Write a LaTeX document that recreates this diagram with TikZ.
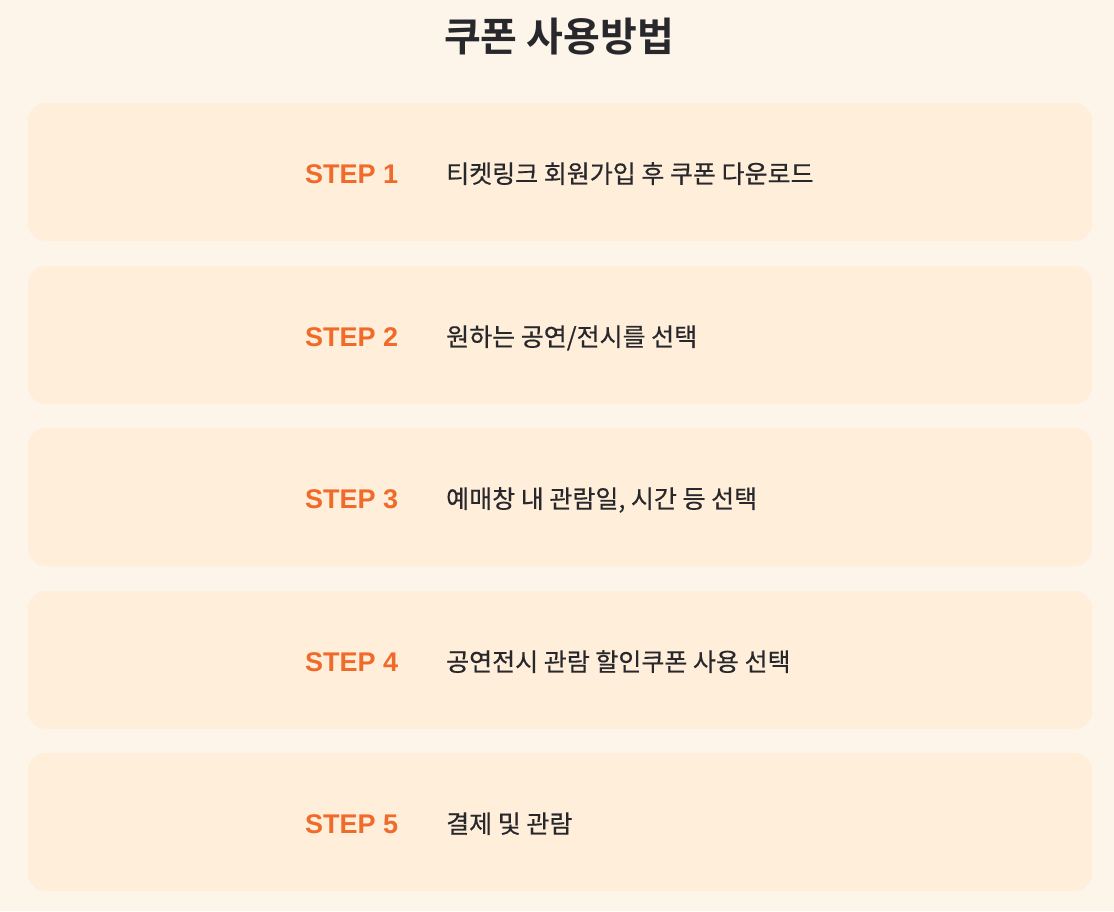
\documentclass[tikz,border=0pt]{standalone}
\usepackage{fontspec}
\setmainfont{Noto Sans CJK KR}
\newfontfamily\titlefont{Noto Sans CJK KR Bold}
\newfontfamily\bodyfont{Noto Sans CJK KR}[FakeBold=0.5]
\newfontfamily\latinfont{Liberation Sans}
\definecolor{pagebg}{RGB}{253,244,234}
\definecolor{boxfill}{RGB}{254,238,218}
\definecolor{steporange}{RGB}{240,106,42}
\definecolor{darktext}{RGB}{40,40,44}
\tikzset{
  stepbox/.style={fill=boxfill,rounded corners=18pt,minimum width=1064pt,minimum height=138pt,inner sep=0pt},
  steplabel/.style={anchor=base west,inner sep=0pt,text=steporange,font=\latinfont\bfseries\fontsize{27}{30}\selectfont},
  steptext/.style={anchor=base west,inner sep=0pt,text=darktext,font=\bodyfont\fontsize{25}{30}\selectfont}
}
\begin{document}
\begin{tikzpicture}[x=1pt,y=-1pt]
	\fill[pagebg](0,0)rectangle(1114,911);
	\useasboundingbox(0,0)rectangle(1114,911);
	\node[text=darktext,font=\titlefont\fontsize{40}{46}\selectfont](title)at(559,37){쿠폰 사용방법};
	% step boxes
	\node[stepbox](box1)at(560,172){};
	\node[stepbox](box2)at(560,335){};
	\node[stepbox](box3)at(560,497){};
	\node[stepbox](box4)at(560,660){};
	\node[stepbox](box5)at(560,822){};
	% labels
	\node[steplabel](step1)at(305,183){STEP 1};
	\node[steptext](text1)at(446,183){티켓링크 회원가입 후 쿠폰 다운로드};
	\node[steplabel](step2)at(305,346){STEP 2};
	\node[steptext](text2)at(446,346){원하는 공연/전시를 선택};
	\node[steplabel](step3)at(305,508){STEP 3};
	\node[steptext](text3)at(446,508){예매창 내 관람일, 시간 등 선택};
	\node[steplabel](step4)at(305,671){STEP 4};
	\node[steptext](text4)at(446,671){공연전시 관람 할인쿠폰 사용 선택};
	\node[steplabel](step5)at(305,833){STEP 5};
	\node[steptext](text5)at(446,833){결제 및 관람};
\end{tikzpicture}
\end{document}
